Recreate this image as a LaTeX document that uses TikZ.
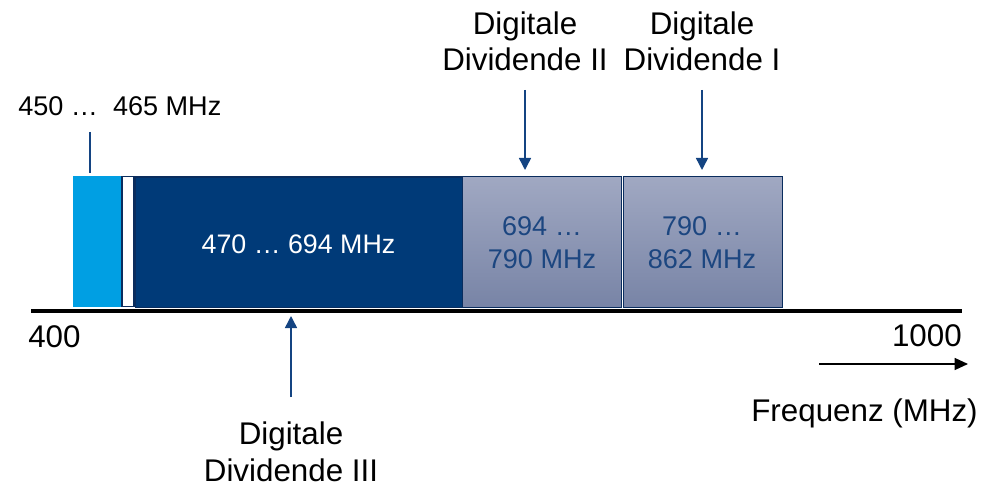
\documentclass[tikz,border=0pt]{standalone}
\usepackage{fontspec}
\setmainfont{Liberation Sans}
\usetikzlibrary{arrows.meta}
\definecolor{lblue}{RGB}{0,159,227}
\definecolor{dblue}{RGB}{0,58,120}
\definecolor{navy}{RGB}{10,45,94}
\definecolor{gtop}{RGB}{160,168,194}
\definecolor{gbot}{RGB}{120,132,166}
\definecolor{gtext}{RGB}{28,70,128}
\definecolor{arrblue}{RGB}{20,68,130}
\begin{document}
\begin{tikzpicture}[x=0.75pt,y=-0.75pt,
  lbl/.style={font=\fontsize{23.5}{27.5}\selectfont,align=center,inner sep=0pt,anchor=base},
  band/.style={draw=navy,line width=0.6pt,top color=gtop,bottom color=gbot},
  pointer/.style={draw=arrblue,line width=1.1pt,-{Triangle[length=9pt,width=9pt]}},
  numlbl/.style={font=\fontsize{23.5}{27}\selectfont,inner sep=0pt,anchor=base}]
\useasboundingbox (0,0) rectangle (998,488);
% bands
\fill[lblue] (73,176) rectangle (121.5,307);
\draw[navy,line width=1pt,fill=white] (122,176.5) rectangle (134,306.5);
\node[draw=navy,line width=0.8pt,fill=dblue,minimum width=327.5*0.75pt,minimum height=130*0.75pt,inner sep=0pt,anchor=north west] (b3) at (134.5,176.5) {};
\node[text=white,font=\fontsize{20.1}{24}\selectfont,anchor=base,inner sep=0pt] (t3) at (298.5,253) {470 … 694 MHz};
\node[band,minimum width=158.5*0.75pt,minimum height=130*0.75pt,inner sep=0pt,anchor=north west] (b2) at (462,176.5) {};
\node[band,minimum width=158.5*0.75pt,minimum height=130*0.75pt,inner sep=0pt,anchor=north west] (b1) at (623.3,176.5) {};
\node[text=gtext,font=\fontsize{20.3}{24.75}\selectfont,align=center,anchor=base,inner sep=0pt] (t2) at (542,268) {694 …\\790 MHz};
\node[text=gtext,font=\fontsize{20.3}{24.75}\selectfont,align=center,anchor=base,inner sep=0pt] (t1) at (702,268) {790 …\\862 MHz};
% axis
\coordinate (ax0) at (31,310.5);
\coordinate (ax1) at (962,310.5);
\draw[black,line width=3pt] (ax0) -- (ax1);
\node[numlbl,anchor=base west] (n400) at (28,347) {400};
\node[numlbl,anchor=base east] (n1000) at (962,346) {1000};
\coordinate (f0) at (819,364);
\coordinate (f1) at (968,364);
\draw[black,line width=0.9pt,-{Triangle[length=10pt,width=9pt]}] (f0) -- (f1);
\node[font=\fontsize{23.5}{27}\selectfont,anchor=base,inner sep=0pt] (freq) at (864.5,421) {Frequenz (MHz)};
% labels and pointers
\node[lbl] (dd2) at (525,71) {Digitale\\Dividende II};
\node[lbl] (dd1) at (702,71) {Digitale\\Dividende I};
\node[lbl] (dd3) at (291,481) {Digitale\\Dividende III};
\coordinate (p2a) at (525,90);
\coordinate (p2b) at (525,170);
\coordinate (p1a) at (702,90);
\coordinate (p1b) at (702,170);
\coordinate (p3a) at (291,397);
\coordinate (p3b) at (291,316);
\draw[pointer] (p2a) -- (p2b);
\draw[pointer] (p1a) -- (p1b);
\draw[pointer] (p3a) -- (p3b);
\node[font=\fontsize{20.3}{24}\selectfont,anchor=base west,inner sep=0pt] (l450) at (18,116) {450 …\ \ 465 MHz};
\coordinate (v0) at (90,132);
\coordinate (v1) at (90,173);
\draw[arrblue,line width=1.2pt] (v0) -- (v1);
\end{tikzpicture}
\end{document}
